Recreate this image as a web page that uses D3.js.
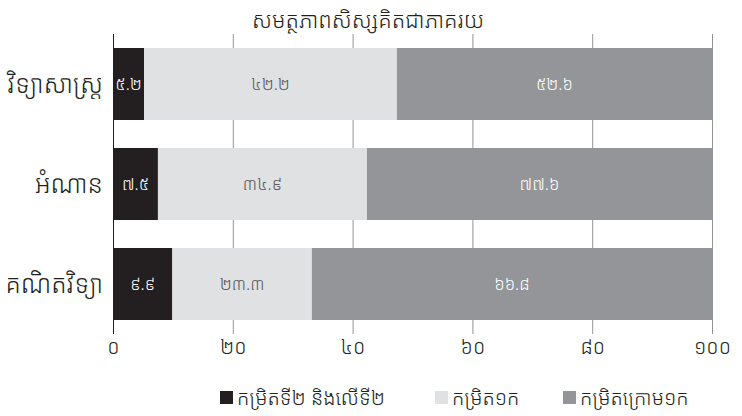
<!DOCTYPE html>
<html>
<head>
<meta charset="utf-8">
<script src="https://cdn.jsdelivr.net/npm/d3@7"></script>
<style>
  body { margin: 0; background: #fff; }
  svg { display: block; }
  text { font-family: "Noto Sans Khmer", "Khmer OS", "Noto Sans", sans-serif; font-weight: 300; }
</style>
</head>
<body>
<div id="chart"></div>
<script>
const WIDTH = 742;
const HEIGHT = 416;

const TITLE = 'សមត្ថភាពសិស្សគិតជាភាគរយ';
const subjects = ['វិទ្យាសាស្ត្រ', 'អំណាន', 'គណិតវិទ្យា'];
const seriesNames = ['កម្រិតទី២ និងលើទី២', 'កម្រិត១ក', 'កម្រិតក្រោម១ក'];
const level2 = [5.2, 7.5, 9.9];
const level1a = [42.2, 34.9, 23.3];
const below1a = [52.6, 57.6, 66.8];
// labels as printed on the original (reading's grey segment says ៧៧.៦)
const level2Labels = ['៥.២', '៧.៥', '៩.៩'];
const level1aLabels = ['៤២.២', '៣៤.៩', '២៣.៣'];
const below1aLabels = ['៥២.៦', '៧៧.៦', '៦៦.៨'];
const xTicks = [0, 20, 40, 60, 80, 100];
const xTickLabels = ['០', '២០', '៤០', '៦០', '៨០', '១០០'];

const COLORS = ['#231f20', '#e0e1e3', '#939598'];
const TEXT_COLORS = ['#ffffff', '#58595b', '#ffffff'];

const LEFT = 113;
const RIGHT = 712;
const TOP = 34;
const BOTTOM = 334;

const svg = d3.select('#chart').append('svg')
  .attr('width', WIDTH)
  .attr('height', HEIGHT);

const x = d3.scaleLinear().domain([0, 100]).range([LEFT, RIGHT]);
const y = d3.scaleBand().domain(subjects).range([TOP, BOTTOM])
  .paddingInner(0.28).paddingOuter(0.14);

// gridlines + ticks
const xAxis = d3.axisBottom(x)
  .tickValues(xTicks)
  .tickFormat((d, i) => xTickLabels[i])
  .tickSize(BOTTOM - TOP)
  .tickPadding(2);

const gx = svg.append('g')
  .attr('transform', `translate(0,${TOP})`)
  .call(xAxis);
gx.select('.domain').remove();
gx.selectAll('.tick line')
  .attr('stroke', d => d === 0 ? '#231f20' : '#939598')
  .attr('stroke-width', 1);
gx.selectAll('.tick text')
  .attr('fill', '#231f20')
  .attr('font-size', 20)
  .attr('dy', '0.9em');

const table = subjects.map((s, i) => ({
  subject: s,
  values: [level2[i], level1a[i], below1a[i]],
  labels: [level2Labels[i], level1aLabels[i], below1aLabels[i]]
}));

const segs = [];
table.forEach(row => {
  let acc = 0;
  row.values.forEach((v, k) => {
    segs.push({ subject: row.subject, k, x0: acc, x1: acc + v, label: row.labels[k] });
    acc += v;
  });
});

svg.append('g').selectAll('rect')
  .data(segs)
  .join('rect')
  .attr('x', d => x(d.x0))
  .attr('y', d => y(d.subject))
  .attr('width', d => x(d.x1) - x(d.x0))
  .attr('height', y.bandwidth())
  .attr('fill', d => COLORS[d.k]);

svg.append('g').selectAll('text')
  .data(segs)
  .join('text')
  .attr('x', d => (x(d.x0) + x(d.x1)) / 2)
  .attr('y', d => y(d.subject) + y.bandwidth() / 2)
  .attr('dy', '0.35em')
  .attr('text-anchor', 'middle')
  .attr('font-size', 17)
  .attr('fill', d => TEXT_COLORS[d.k])
  .text(d => d.label);

// category labels
svg.append('g').selectAll('text')
  .data(subjects)
  .join('text')
  .attr('x', LEFT - 10)
  .attr('y', d => y(d) + y.bandwidth() / 2)
  .attr('dy', '0.35em')
  .attr('text-anchor', 'end')
  .attr('font-size', 25)
  .attr('fill', '#231f20')
  .text(d => d);

// title
svg.append('text')
  .attr('x', 368)
  .attr('y', 20)
  .attr('dy', '0.35em')
  .attr('text-anchor', 'middle')
  .attr('font-size', 22)
  .attr('fill', '#231f20')
  .text(TITLE);

// legend
const legendX = [220, 435, 563];
const lg = svg.append('g').selectAll('g')
  .data(seriesNames)
  .join('g')
  .attr('transform', (d, i) => `translate(${legendX[i]},391)`);
lg.append('rect')
  .attr('width', 13)
  .attr('height', 13)
  .attr('fill', (d, i) => COLORS[i]);
lg.append('text')
  .attr('x', 17)
  .attr('y', 7)
  .attr('dy', '0.35em')
  .attr('font-size', 20)
  .attr('fill', '#231f20')
  .text(d => d);
</script>
</body>
</html>
